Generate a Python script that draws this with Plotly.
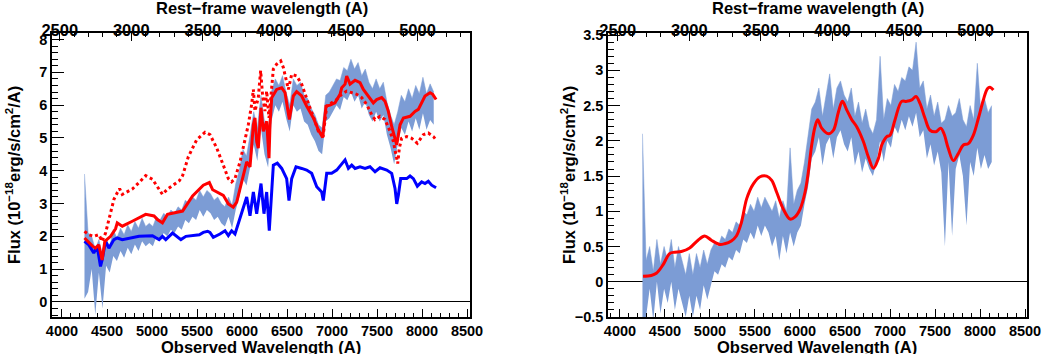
import plotly.graph_objects as go

Z1 = 1.59  # 1+z for rest-frame axis

# ---------------- common wavelength grid for the observed spectra ----------------
wave_grid = list(range(4250, 8170, 40))

# ---------------- left panel: observed spectrum (flux, half-width) ----------------
left_flux = [2.0, 1.2, 1.5, 0.6, 1.4, 0.6, 1.5, 1.3, 1.8, 1.6,
             1.9, 1.7, 2.0, 1.8, 2.1, 1.9, 2.2, 2.0, 2.1, 2.0,
             2.3, 2.2, 2.4, 2.3, 2.5, 2.4, 2.6, 2.5, 2.8, 2.7,
             2.9, 2.8, 3.1, 2.9, 3.1, 3.0, 2.8, 2.9, 2.7, 2.6,
             2.9, 2.6, 3.2, 3.6, 4.2, 4.0, 4.6, 5.3, 4.8, 5.8,
             5.0, 4.6, 6.0, 6.4, 6.2, 6.5, 6.0, 5.6, 6.4, 6.2,
             6.3, 5.9, 5.8, 5.5, 5.3, 5.0, 4.9, 5.9, 6.0, 6.2,
             6.4, 6.3, 6.7, 6.6, 6.9, 6.6, 6.8, 6.4, 6.6, 6.2,
             6.0, 6.3, 6.0, 6.2, 5.6, 5.2, 4.8, 5.3, 5.8, 5.6,
             6.0, 5.7, 6.1, 5.8, 6.3, 5.8, 6.1, 5.9]
left_err = [1.9, 0.9, 0.5, 1.0, 0.5, 0.8, 0.4, 0.4, 0.4, 0.35,
            0.35, 0.35, 0.35, 0.35, 0.35, 0.35, 0.35, 0.3, 0.3, 0.3,
            0.3, 0.3, 0.3, 0.3, 0.3, 0.3, 0.3, 0.3, 0.3, 0.3,
            0.3, 0.3, 0.3, 0.3, 0.3, 0.3, 0.3, 0.3, 0.3, 0.3,
            0.3, 0.35, 0.4, 0.4, 0.45, 0.45, 0.5, 0.5, 0.5, 0.5,
            0.5, 0.5, 0.45, 0.4, 0.4, 0.4, 0.4, 0.4, 0.4, 0.4,
            0.4, 0.4, 0.4, 0.4, 0.4, 0.4, 0.4, 0.4, 0.4, 0.4,
            0.4, 0.45, 0.45, 0.45, 0.5, 0.5, 0.5, 0.5, 0.5, 0.5,
            0.5, 0.5, 0.5, 0.5, 0.5, 0.5, 0.6, 0.5, 0.5, 0.5,
            0.5, 0.5, 0.5, 0.55, 0.55, 0.55, 0.55, 0.5]

# left panel models
red_w = [4250, 4298, 4340, 4372, 4409, 4446, 4476, 4540, 4595, 4614, 4670, 4781, 4930, 5023, 5060,
         5116, 5172, 5340, 5451, 5570, 5637, 5674, 5792, 5848, 5903, 5941, 6015, 6052, 6089, 6126,
         6144, 6163, 6181, 6200, 6211, 6237, 6274, 6300, 6311, 6330, 6385, 6441, 6478, 6526, 6570,
         6607, 6663, 6718, 6793, 6848, 6896, 6933, 6978, 7033, 7089, 7108, 7145, 7163, 7200, 7256,
         7311, 7348, 7404, 7459, 7496, 7552, 7589, 7626, 7663, 7700, 7719, 7756, 7793, 7867, 7922,
         7959, 7996, 8033, 8089, 8119, 8156]
red_f = [1.95, 1.80, 1.70, 1.64, 1.74, 1.28, 1.85, 2.00, 2.23, 2.41, 2.31, 2.46, 2.67, 2.62, 2.51,
         2.41, 2.67, 2.77, 3.23, 3.56, 3.64, 3.42, 3.25, 2.99, 2.89, 3.04, 3.87, 4.27, 4.12, 5.40,
         5.61, 4.89, 4.69, 5.40, 5.92, 5.20, 5.51, 4.38, 5.40, 6.23, 6.48, 6.53, 6.38, 5.56, 6.28,
         6.41, 6.28, 5.97, 5.61, 5.25, 5.01, 5.97, 6.00, 6.07, 6.33, 6.53, 6.64, 6.89, 6.64, 6.76,
         6.69, 6.48, 6.28, 6.07, 6.17, 6.23, 6.12, 5.81, 5.35, 4.94, 4.79, 5.40, 5.61, 5.66, 5.81,
         5.87, 6.07, 6.28, 6.38, 6.33, 6.17]

dot_w = [4250, 4298, 4353, 4409, 4446, 4484, 4540, 4577, 4614, 4640, 4670, 4781, 4856, 4930, 5005,
         5079, 5116, 5172, 5302, 5340, 5404, 5496, 5589, 5644, 5718, 5792, 5848, 5885, 5922, 5978,
         6033, 6070, 6107, 6126, 6144, 6181, 6207, 6229, 6255, 6274, 6300, 6330, 6348, 6385, 6430,
         6459, 6496, 6515, 6552, 6607, 6663, 6700, 6755, 6811, 6848, 6903, 6941, 6996, 7052, 7108,
         7163, 7219, 7274, 7330, 7385, 7441, 7478, 7533, 7589, 7645, 7682, 7711, 7730, 7748, 7774,
         7830, 7885, 7948, 8015, 8070, 8126, 8156]
dot_f = [2.15, 2.05, 2.00, 2.05, 1.85, 2.10, 2.72, 3.13, 3.33, 3.45, 3.28, 3.44, 3.64, 3.85, 3.74,
         3.44, 3.28, 3.44, 3.69, 3.85, 4.43, 4.94, 5.17, 5.10, 4.70, 4.17, 3.76, 3.66, 3.76, 4.27,
         4.89, 5.40, 6.02, 6.48, 5.82, 6.23, 7.05, 6.28, 5.82, 6.43, 5.61, 6.64, 7.10, 7.25, 7.35,
         7.15, 6.74, 6.48, 6.94, 6.89, 6.64, 6.33, 5.92, 5.51, 5.20, 5.10, 5.97, 6.07, 6.17, 6.33,
         6.43, 6.38, 6.33, 6.23, 6.02, 5.71, 5.56, 5.66, 5.56, 5.20, 4.89, 4.48, 4.22, 4.69, 4.99,
         5.04, 4.99, 4.84, 5.10, 5.15, 5.04, 4.94]

blue_w = [4250, 4298, 4353, 4391, 4428, 4446, 4484, 4521, 4577, 4614, 4670, 4856, 5005, 5079, 5116,
          5153, 5228, 5321, 5377, 5526, 5570, 5619, 5644, 5681, 5755, 5811, 5848, 5885, 5922, 5978,
          6052, 6089, 6126, 6163, 6211, 6244, 6274, 6303, 6348, 6392, 6441, 6496, 6522, 6552, 6600,
          6663, 6718, 6774, 6830, 6885, 6903, 6941, 6996, 7052, 7145, 7182, 7219, 7256, 7311, 7367,
          7422, 7478, 7533, 7608, 7663, 7700, 7719, 7737, 7763, 7830, 7867, 7904, 7948, 7996, 8033,
          8070, 8107, 8156]
blue_f = [1.85, 1.74, 1.49, 1.69, 1.08, 1.28, 1.85, 1.64, 1.90, 1.95, 1.90, 2.00, 2.02, 1.90, 2.00,
          1.90, 2.10, 1.90, 2.00, 2.05, 2.12, 2.15, 2.12, 1.97, 2.07, 2.17, 2.02, 2.17, 2.07, 2.53,
          3.20, 2.63, 3.35, 2.69, 3.61, 2.69, 3.35, 2.17, 4.17, 4.23, 4.07, 3.76, 3.09, 3.76, 4.12,
          4.07, 4.02, 3.92, 3.51, 3.35, 3.09, 3.92, 3.92, 4.02, 4.33, 4.07, 4.17, 4.07, 4.12, 4.07,
          4.12, 3.97, 4.09, 4.02, 3.92, 3.46, 2.99, 3.25, 3.76, 3.76, 3.84, 3.76, 3.53, 3.66, 3.61,
          3.68, 3.56, 3.48]

# ---------------- right panel: observed spectrum (flux, half-width) ----------------
right_flux = [0.8, -0.1, 0.2, -0.2, 0.3, -0.1, 0.2, 0.0, 0.3, -0.1,
              0.2, 0.0, -0.2, 0.1, -0.2, 0.1, -0.1, 0.2, 0.0, 0.2,
              0.35, 0.3, 0.45, 0.4, 0.55, 0.5, 0.65, 0.6, 0.8, 0.75,
              0.9, 0.8, 1.0, 0.85, 1.0, 0.9, 0.75, 0.9, 0.6, 0.9,
              0.7, 1.3, 0.8, 1.0, 1.1, 1.4, 1.7, 2.1, 2.2, 2.4,
              2.0, 2.3, 2.5, 2.1, 2.4, 2.5, 2.3, 2.2, 2.4, 2.0,
              2.2, 1.9, 2.1, 1.9, 1.8, 2.0, 2.6, 2.0, 2.3, 2.2,
              2.5, 2.4, 2.6, 2.5, 2.7, 2.6, 2.9, 2.4, 2.5, 2.1,
              2.3, 2.0, 2.2, 1.9, 1.4, 2.1, 1.5, 2.0, 2.2, 1.9,
              1.5, 2.1, 1.9, 2.5, 2.0, 2.2, 2.0, 2.1]
right_err = [1.3, 0.4, 0.3, 0.35, 0.3, 0.35, 0.3, 0.3, 0.3, 0.3,
             0.3, 0.3, 0.3, 0.3, 0.3, 0.3, 0.3, 0.25, 0.25, 0.25,
             0.2, 0.2, 0.2, 0.2, 0.2, 0.2, 0.2, 0.2, 0.2, 0.2,
             0.2, 0.2, 0.2, 0.2, 0.2, 0.2, 0.25, 0.25, 0.3, 0.25,
             0.3, 0.6, 0.3, 0.3, 0.3, 0.3, 0.35, 0.35, 0.35, 0.35,
             0.35, 0.35, 0.45, 0.35, 0.35, 0.35, 0.35, 0.35, 0.35, 0.35,
             0.35, 0.35, 0.35, 0.3, 0.3, 0.3, 0.6, 0.3, 0.3, 0.3,
             0.3, 0.3, 0.3, 0.35, 0.35, 0.4, 0.5, 0.35, 0.35, 0.35,
             0.35, 0.35, 0.35, 0.35, 0.9, 0.4, 0.85, 0.4, 0.4, 0.4,
             0.7, 0.4, 0.4, 0.6, 0.4, 0.4, 0.4, 0.4]

rfit_w = [4256, 4348, 4404, 4478, 4552, 4608, 4682, 4774, 4867, 4941, 5015, 5108, 5163, 5237, 5293,
          5349, 5408, 5482, 5556, 5630, 5686, 5741, 5815, 5889, 5945, 6001, 6056, 6093, 6130, 6167,
          6197, 6241, 6316, 6371, 6427, 6471, 6519, 6575, 6630, 6704, 6760, 6816, 6871, 6908, 6964,
          7001, 7056, 7130, 7185, 7241, 7289, 7333, 7389, 7445, 7511, 7563, 7600, 7648, 7704, 7759,
          7815, 7870, 7926, 7982, 8037, 8082, 8111, 8148]
rfit_f = [0.08, 0.09, 0.12, 0.24, 0.40, 0.42, 0.43, 0.48, 0.59, 0.65, 0.59, 0.53, 0.54, 0.58, 0.65,
          0.84, 1.18, 1.39, 1.49, 1.50, 1.44, 1.27, 1.03, 0.89, 0.92, 1.03, 1.27, 1.56, 1.94, 2.20,
          2.30, 2.18, 2.10, 2.15, 2.41, 2.56, 2.44, 2.30, 2.20, 1.99, 1.77, 1.61, 1.75, 1.94, 2.06,
          2.08, 2.30, 2.56, 2.56, 2.58, 2.63, 2.53, 2.32, 2.15, 2.13, 2.18, 2.10, 1.89, 1.72, 1.82,
          1.94, 1.96, 2.08, 2.32, 2.58, 2.74, 2.76, 2.72]

# ---------------- axis settings ----------------
LX_RANGE = [3889, 8533]
LY_RANGE = [-0.46, 8.2]
RX_RANGE = [3867, 8522]
RY_RANGE = [-0.5, 3.53]

W, H = 1043, 354
BAND = "#7c9cd5"
XFONT = dict(family="Liberation Sans", size=14.5, color="black", weight="bold")
TOPFONT = dict(family="Liberation Sans", size=16.5, color="black", weight="bold")
YFONT = dict(family="Liberation Sans", size=14.5, color="black", weight="bold")


def px(x):
    return x / W


def py(y):
    return 1 - y / H


fig = go.Figure()


def add_band(xa, ya, flux, err):
    lo = [f - e for f, e in zip(flux, err)]
    hi = [f + e for f, e in zip(flux, err)]
    fig.add_trace(go.Scatter(x=wave_grid, y=lo, mode="lines", line=dict(width=0, color=BAND),
                             xaxis=xa, yaxis=ya, showlegend=False, hoverinfo="skip"))
    fig.add_trace(go.Scatter(x=wave_grid, y=hi, mode="lines", line=dict(width=0.5, color=BAND),
                             fill="tonexty", fillcolor=BAND,
                             xaxis=xa, yaxis=ya, showlegend=False, hoverinfo="skip"))


add_band("x", "y", left_flux, left_err)
fig.add_trace(go.Scatter(x=blue_w, y=blue_f, mode="lines", line=dict(color="#0000ff", width=3),
                         xaxis="x", yaxis="y", showlegend=False))
fig.add_trace(go.Scatter(x=dot_w, y=dot_f, mode="lines", line=dict(color="#ff0000", width=3, dash="dot"),
                         xaxis="x", yaxis="y", showlegend=False))
fig.add_trace(go.Scatter(x=red_w, y=red_f, mode="lines", line=dict(color="#ff0000", width=3),
                         xaxis="x", yaxis="y", showlegend=False))

add_band("x2", "y2", right_flux, right_err)
fig.add_trace(go.Scatter(x=rfit_w, y=rfit_f, mode="lines", line=dict(color="#ff0000", width=3, shape="spline"),
                         xaxis="x2", yaxis="y2", showlegend=False))

# helper traces for the rest-frame axes
fig.add_trace(go.Scatter(x=[LX_RANGE[0] / Z1], y=[None], xaxis="x3", yaxis="y", showlegend=False, hoverinfo="skip"))
fig.add_trace(go.Scatter(x=[RX_RANGE[0] / Z1], y=[None], xaxis="x4", yaxis="y2", showlegend=False, hoverinfo="skip"))

LDOM = [px(52), px(470)]
RDOM = [px(608), px(1027)]
YDOM = [py(317), py(33)]

common_x = dict(showgrid=False, zeroline=False, showline=True, linecolor="black", linewidth=1.5,
                ticks="inside", ticklen=8, tickwidth=1.2, tickcolor="black", automargin=False,
                tick0=0, dtick=500,
                minor=dict(ticks="inside", ticklen=4, dtick=100, tickcolor="black", tickwidth=1))
common_y = dict(showgrid=False, zeroline=True, zerolinecolor="black", zerolinewidth=1, automargin=False,
                showline=True, linecolor="black", linewidth=1.5, mirror=True,
                ticks="inside", ticklen=12, tickwidth=1.2, tickcolor="black", tickfont=YFONT)

fig.update_layout(
    width=W, height=H,
    margin=dict(l=0, r=0, t=0, b=0, autoexpand=False),
    paper_bgcolor="white", plot_bgcolor="white",
    showlegend=False,
    xaxis=dict(domain=LDOM, range=LX_RANGE, anchor="y", tickfont=XFONT, **common_x),
    yaxis=dict(domain=YDOM, range=LY_RANGE, anchor="x", tick0=0, dtick=1,
               minor=dict(ticks="inside", ticklen=6, dtick=0.2, tickcolor="black", tickwidth=1), **common_y),
    xaxis2=dict(domain=RDOM, range=RX_RANGE, anchor="y2", tickfont=XFONT, **common_x),
    yaxis2=dict(domain=YDOM, range=RY_RANGE, anchor="x2", tick0=0, dtick=0.5,
                minor=dict(ticks="inside", ticklen=6, dtick=0.1, tickcolor="black", tickwidth=1), **common_y),
    xaxis3=dict(overlaying="x", side="top", anchor="y", range=[r / Z1 for r in LX_RANGE],
                tickfont=TOPFONT, ticklabelstandoff=-11, **common_x),
    xaxis4=dict(overlaying="x2", side="top", anchor="y2", range=[r / Z1 for r in RX_RANGE],
                tickfont=TOPFONT, ticklabelstandoff=-11, **common_x),
)

TFONT = dict(family="Liberation Sans", size=16.5, color="black", weight="bold")
ytitle = "Flux (10<sup>−18</sup>erg/s/cm<sup>2</sup>/A)"
annots = [
    dict(text="Observed Wavelength (A)", x=px(261), y=py(347)),
    dict(text="Observed Wavelength (A)", x=px(817), y=py(347)),
    dict(text="Rest−frame wavelength (A)", x=px(262), y=py(8)),
    dict(text="Rest−frame wavelength (A)", x=px(818), y=py(8)),
    dict(text=ytitle, x=px(13), y=py(175), textangle=-90),
    dict(text=ytitle, x=px(568), y=py(175), textangle=-90),
]
for a in annots:
    fig.add_annotation(xref="paper", yref="paper", showarrow=False, xanchor="center", yanchor="middle",
                       font=TFONT, **a)

fig.write_html("out.html", config={"displayModeBar": False},
               post_script="document.body.style.margin='0';")
